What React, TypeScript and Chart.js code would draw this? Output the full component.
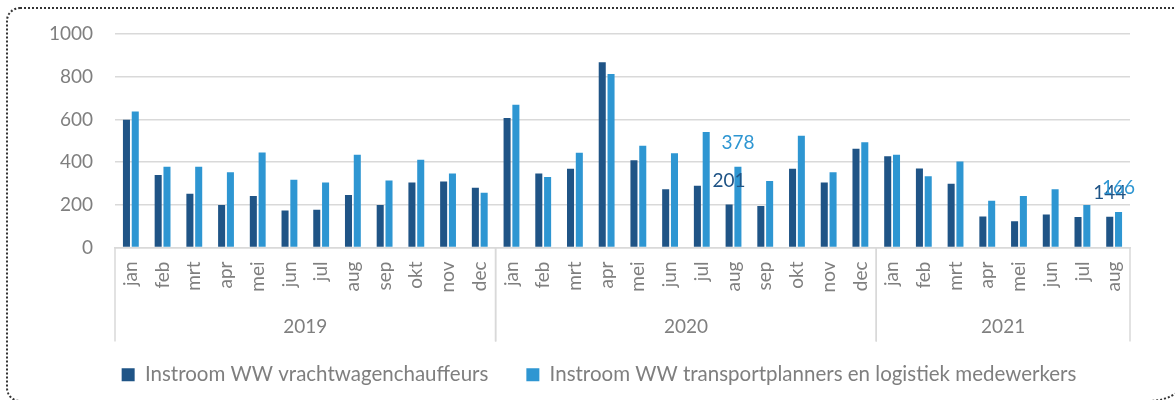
import { useEffect, useRef } from 'react';
import { Chart, registerables } from 'chart.js';

Chart.register(...registerables);

const monthLabels = [
  'jan', 'feb', 'mrt', 'apr', 'mei', 'jun', 'jul', 'aug', 'sep', 'okt', 'nov', 'dec',
  'jan', 'feb', 'mrt', 'apr', 'mei', 'jun', 'jul', 'aug', 'sep', 'okt', 'nov', 'dec',
  'jan', 'feb', 'mrt', 'apr', 'mei', 'jun', 'jul', 'aug',
];
const years = ['2019', '2020', '2021'];
const monthsPerYear = [12, 12, 8];

const chauffeurs = [
  598, 339, 252, 199, 241, 173, 177, 246, 199, 305, 309, 280,
  607, 347, 369, 868, 409, 273, 289, 201, 194, 369, 305, 462,
  427, 370, 299, 145, 123, 154, 143, 144,
];
const planners = [
  637, 378, 378, 353, 445, 317, 305, 435, 314, 411, 347, 257,
  669, 330, 444, 813, 476, 441, 541, 378, 311, 524, 353, 493,
  434, 334, 403, 219, 241, 273, 199, 166,
];
const seriesNames = [
  'Instroom WW vrachtwagenchauffeurs',
  'Instroom WW transportplanners en logistiek medewerkers',
];
const labelledIndices = [19, 31];
const yMin = 0;
const yMax = 1000;
const yStep = 200;

const DARK = '#1f5486';
const LIGHT = '#2e96d2';
const TEXT = '#7f7f7f';
const GRID = '#d9d9d9';
const FONT = 'Lato';
const FONT_SIZE = 19;
const LEGEND_FONT_SIZE = 20.5;

const yearGroupPlugin = {
  id: 'yearGroups',
  afterDraw(chart: any) {
    const xs = chart.scales.x;
    const ctx = chart.ctx;
    const step = xs.getPixelForValue(1) - xs.getPixelForValue(0);
    const top = xs.top;
    ctx.save();
    ctx.strokeStyle = GRID;
    ctx.lineWidth = 1.5;
    ctx.fillStyle = TEXT;
    ctx.font = `${FONT_SIZE}px ${FONT}`;
    ctx.textAlign = 'center';
    ctx.textBaseline = 'middle';
    let start = 0;
    monthsPerYear.forEach((n, i) => {
      const left = xs.getPixelForValue(start) - step / 2;
      const right = xs.getPixelForValue(start + n - 1) + step / 2;
      ctx.beginPath();
      ctx.moveTo(left, top);
      ctx.lineTo(left, top + 94);
      ctx.moveTo(right, top);
      ctx.lineTo(right, top + 94);
      ctx.stroke();
      ctx.fillText(years[i], (left + right) / 2, top + 79);
      start += n;
    });
    ctx.restore();
  },
};

const dataLabelPlugin = {
  id: 'dataLabels',
  afterDatasetsDraw(chart: any) {
    const ctx = chart.ctx;
    ctx.save();
    ctx.font = `${FONT_SIZE}px ${FONT}`;
    ctx.textAlign = 'center';
    ctx.textBaseline = 'middle';
    chart.data.datasets.forEach((ds: any, di: number) => {
      const meta = chart.getDatasetMeta(di);
      labelledIndices.forEach((idx) => {
        const el = meta.data[idx];
        if (!el) return;
        ctx.fillStyle = ds.backgroundColor;
        ctx.fillText(String(ds.data[idx]), el.x, el.y - 24);
      });
    });
    ctx.restore();
  },
};

export default function App() {
  const canvasRef = useRef<HTMLCanvasElement | null>(null);

  useEffect(() => {
    if (!canvasRef.current) return;
    const chart = new Chart(canvasRef.current, {
      type: 'bar',
      data: {
        labels: monthLabels,
        datasets: [
          {
            label: seriesNames[0],
            data: chauffeurs,
            backgroundColor: DARK,
            categoryPercentage: 0.555,
            barPercentage: 0.8,
          },
          {
            label: seriesNames[1],
            data: planners,
            backgroundColor: LIGHT,
            categoryPercentage: 0.555,
            barPercentage: 0.8,
          },
        ],
      },
      options: {
        responsive: false,
        animation: false,
        layout: { padding: { left: 23, right: 0, top: 34, bottom: 5 } },
        plugins: {
          tooltip: { enabled: false },
          legend: {
            position: 'bottom',
            labels: {
              boxWidth: 13,
              boxHeight: 13,
              padding: 38,
              color: TEXT,
              font: { family: FONT, size: LEGEND_FONT_SIZE },
            },
          },
        },
        scales: {
          x: {
            grid: { display: false, drawTicks: false },
            border: { display: true, color: GRID, width: 1.5 },
            ticks: {
              autoSkip: false,
              minRotation: 90,
              maxRotation: 90,
              padding: 14,
              color: TEXT,
              font: { family: FONT, size: FONT_SIZE },
            },
            afterFit: (s: any) => {
              s.height = 79;
            },
          },
          y: {
            min: yMin,
            max: yMax,
            ticks: {
              stepSize: yStep,
              padding: 22,
              color: TEXT,
              font: { family: FONT, size: FONT_SIZE },
              callback: (v: any) => String(v),
            },
            grid: { color: GRID, lineWidth: 1.5, drawTicks: false },
            border: { display: false },
            afterFit: (s: any) => {
              s.width = 92;
            },
          },
          yRight: {
            position: 'right',
            display: true,
            grid: { display: false, drawTicks: false },
            border: { display: false },
            ticks: { display: false },
            afterFit: (s: any) => {
              s.width = 45;
            },
          },
        },
      },
      plugins: [yearGroupPlugin, dataLabelPlugin],
    });
    return () => chart.destroy();
  }, []);

  return (
    <div
      style={{
        position: 'fixed',
        left: 0,
        top: 0,
        width: 1175,
        height: 400,
        overflow: 'hidden',
        background: '#fff',
      }}
    >
      <canvas ref={canvasRef} width={1175} height={400} style={{ display: 'block' }} />
      <div
        style={{
          position: 'absolute',
          left: 6,
          top: 7,
          width: 1190,
          height: 395,
          boxSizing: 'border-box',
          border: '2px dotted #333',
          borderRadius: '14px 14px 45px 14px',
          pointerEvents: 'none',
        }}
      />
    </div>
  );
}
